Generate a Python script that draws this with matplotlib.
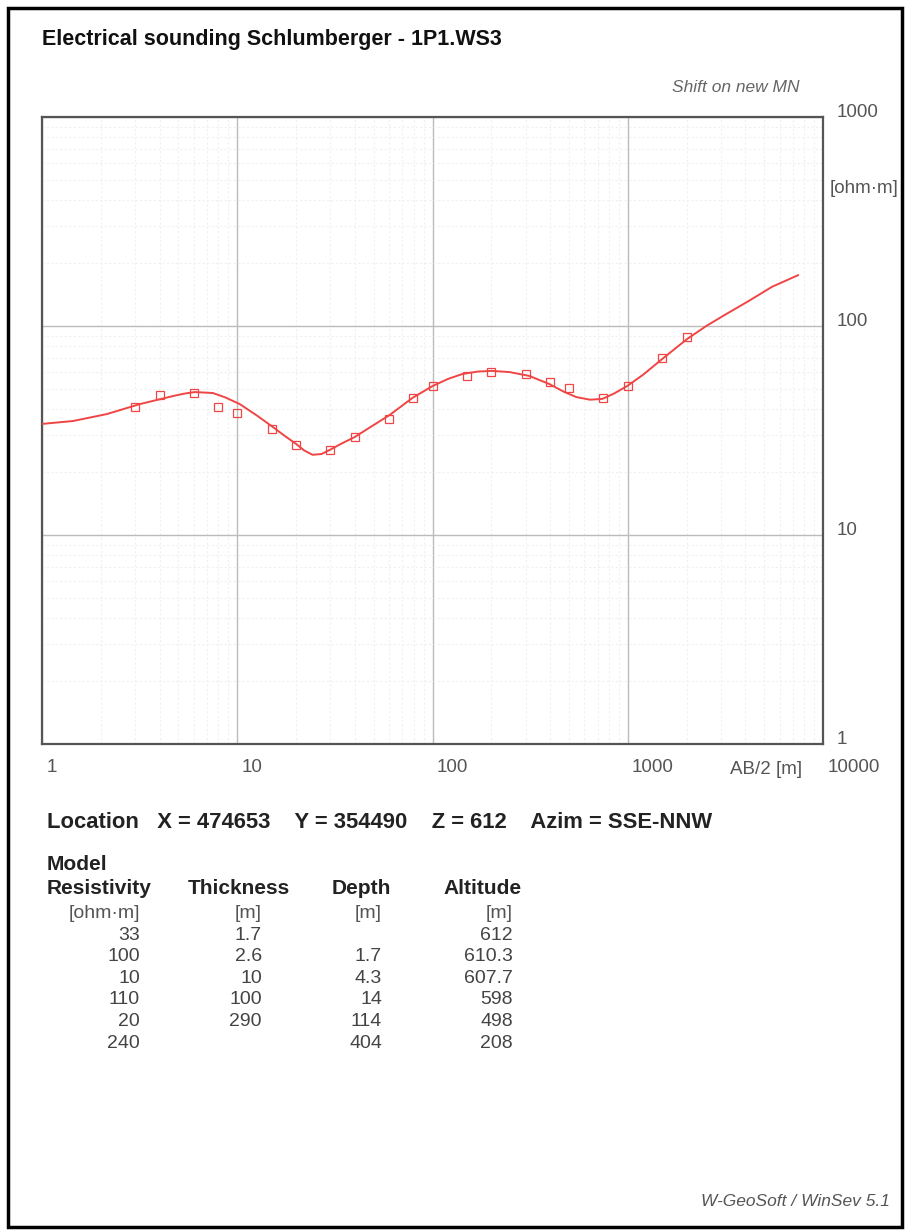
import matplotlib
matplotlib.use("Agg")
import matplotlib.pyplot as plt
from matplotlib.patches import Rectangle
from matplotlib.ticker import FixedLocator, NullFormatter, LogLocator
from matplotlib.transforms import ScaledTranslation

plt.rcParams['font.family'] = ['Liberation Sans', 'DejaVu Sans']

# ---------------- data ----------------
# measured apparent resistivity (AB/2 [m], rho_a [ohm·m])
meas_ab2 = [3.0, 4.0, 6.0, 8.0, 10, 15, 20, 30, 40, 60, 79, 100, 150, 200, 300, 400, 500, 750, 1000, 1500, 2000]
meas_rho = [41, 47, 48, 41, 38.5, 32, 27, 25.5, 29.4, 36, 45, 51.6, 57.7, 60, 59, 54, 50.5, 45, 51.6, 70, 89]

# model response curve
curve_ab2 = [1.0, 1.44, 2.15, 3.17, 4.68, 5.3, 6.06, 7.5, 8.7, 10.3, 12.5, 15.2, 17.5, 20.1, 22, 24.3, 27,
             29.7, 34, 39.9, 49, 60.3, 79, 100, 120, 142, 170, 200, 248, 313, 396, 470, 545, 640, 741, 850,
             993, 1200, 1500, 2015, 2524, 3190, 4180, 5480, 7450]
curve_rho = [34.0, 35.1, 37.9, 42.3, 46.2, 47.4, 48.3, 47.8, 45.5, 42.3, 37.5, 32.9, 29.8, 27.2, 25.4, 24.2,
             24.4, 25.5, 27.3, 29.4, 33.2, 37.5, 45.3, 51.6, 55.8, 58.9, 60.5, 61, 60.2, 57.7, 52.8, 48.5,
             45.7, 44.4, 44.8, 47.5, 51.6, 58.5, 69.5, 86.7, 100, 114, 132, 154, 175]

x_ticks = [1, 10, 100, 1000, 10000]
x_tick_labels = ["1", "10", "100", "1000", "10000"]
y_ticks = [1, 10, 100, 1000]
y_tick_labels = ["1", "10", "100", "1000"]

title = "Electrical sounding Schlumberger - 1P1.WS3"
location = "Location   X = 474653    Y = 354490    Z = 612    Azim = SSE-NNW"

col_resistivity = ["33", "100", "10", "110", "20", "240"]
col_thickness = ["1.7", "2.6", "10", "100", "290", ""]
col_depth = ["", "1.7", "4.3", "14", "114", "404"]
col_altitude = ["612", "610.3", "607.7", "598", "498", "208"]
col_headers = ["Resistivity", "Thickness", "Depth", "Altitude"]
col_units = ["[ohm·m]", "[m]", "[m]", "[m]"]

# ---------------- figure ----------------
W, H = 907, 1232
fig = plt.figure(figsize=(W / 100, H / 100), dpi=100)

def fx(px):
    return px / W

def fy(py):
    return 1 - py / H

# outer frame
fig.patches.append(Rectangle((fx(8), fy(1227)), fx(902) - fx(8), fy(8) - fy(1227),
                             transform=fig.transFigure, fill=False, edgecolor='black', linewidth=2.5))

ax_l, ax_r, ax_t, ax_b = 42, 823, 117, 744
ax = fig.add_axes([fx(ax_l), fy(ax_b), fx(ax_r) - fx(ax_l), fy(ax_t) - fy(ax_b)])
ax.set_xscale('log')
ax.set_yscale('log')
ax.set_xlim(1, 10000)
ax.set_ylim(1, 1000)

red = '#f04545'
ax.plot(curve_ab2, curve_rho, color=red, linewidth=1.4, zorder=3, solid_joinstyle='round')
ax.plot(meas_ab2, meas_rho, linestyle='none', marker='s', markersize=5.8,
        markerfacecolor='none', markeredgecolor=red, markeredgewidth=0.9, zorder=4)

# grid
ax.xaxis.set_major_locator(FixedLocator(x_ticks))
ax.yaxis.set_major_locator(FixedLocator(y_ticks))
ax.xaxis.set_minor_locator(LogLocator(base=10, subs=range(2, 10)))
ax.yaxis.set_minor_locator(LogLocator(base=10, subs=range(2, 10)))
ax.xaxis.set_minor_formatter(NullFormatter())
ax.yaxis.set_minor_formatter(NullFormatter())
ax.grid(True, which='major', color='#bcbcbc', linewidth=1.0)
ax.grid(True, which='minor', color='#f0f0f0', linewidth=0.8, linestyle=(0, (2, 2)))
ax.set_axisbelow(True)

for s in ax.spines.values():
    s.set_color('#555555')
    s.set_linewidth(1.6)

ax.set_xticklabels(x_tick_labels)
ax.yaxis.tick_right()
ax.set_yticklabels(y_tick_labels)
ax.tick_params(axis='both', which='both', length=0)
ax.tick_params(axis='x', pad=11, labelsize=13.5, labelcolor='#555555')
ax.tick_params(axis='y', pad=10, labelsize=13.5, labelcolor='#555555')
for lab in ax.get_yticklabels():
    lab.set_verticalalignment('baseline')
shift = ScaledTranslation(3 / 72, 0, fig.dpi_scale_trans)
for lab in ax.get_xticklabels():
    lab.set_horizontalalignment('left')
    lab.set_transform(lab.get_transform() + shift)

ax.text(0.927, -0.041, "AB/2 [m]", transform=ax.transAxes, ha='center', va='center',
        fontsize=13.5, color='#555555')
ax.text(1.009, 0.886, "[ohm·m]", transform=ax.transAxes, ha='left', va='center',
        fontsize=13.5, color='#555555')

# header texts
fig.text(fx(42), fy(40), title, ha='left', va='center', fontsize=15.5, fontweight='bold', color='#111111')
fig.text(fx(800), fy(88), "Shift on new MN", ha='right', va='center', fontsize=12.5,
         style='italic', color='#666666')

fig.text(fx(47), fy(823), location, ha='left', va='center', fontsize=15.8, fontweight='bold',
         color='#222222')

# model table
fig.text(fx(47), fy(864), "Model", ha='left', va='center', fontsize=15, fontweight='bold', color='#222222')
header_x = [47, 188, 332, 443]
for hx, h in zip(header_x, col_headers):
    fig.text(fx(hx), fy(889), h, ha='left', va='center', fontsize=15, fontweight='bold', color='#222222')

right_x = [140, 262, 382, 513]
unit_y = 913
for rx, u in zip(right_x, col_units):
    fig.text(fx(rx), fy(unit_y), u, ha='right', va='center', fontsize=14, color='#555555')

row_y0, row_dy = 935, 21.6
columns = [col_resistivity, col_thickness, col_depth, col_altitude]
for rx, col in zip(right_x, columns):
    for i, v in enumerate(col):
        if v:
            fig.text(fx(rx), fy(row_y0 + i * row_dy), v, ha='right', va='center',
                     fontsize=14, color='#444444')

fig.text(fx(890), fy(1201), "W-GeoSoft / WinSev 5.1", ha='right', va='center', fontsize=12.5,
         style='italic', color='#555555')

fig.savefig("out.png", dpi=100)
